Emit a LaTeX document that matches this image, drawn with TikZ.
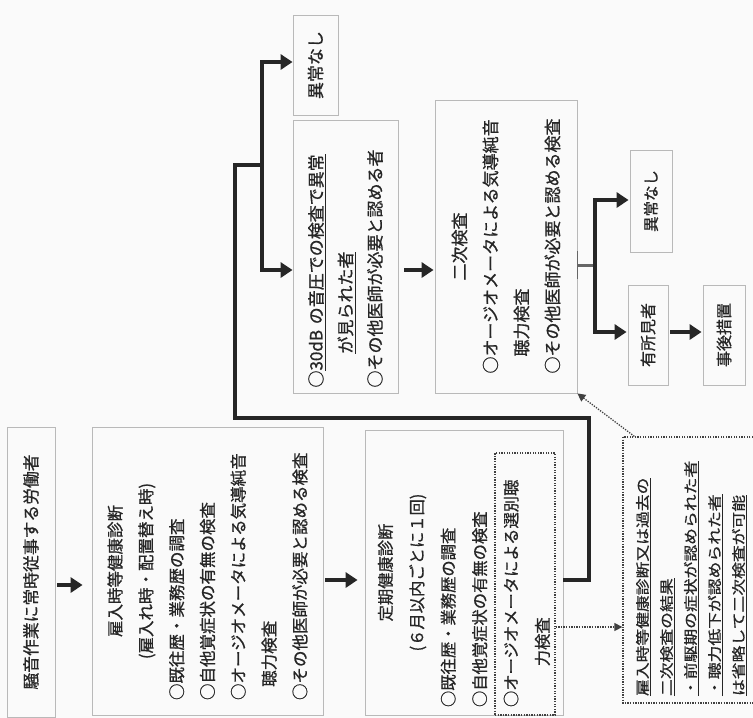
\documentclass[tikz,border=0pt]{standalone}
\usepackage{fontspec}
\newfontfamily\jp[FakeBold=0.8]{Noto Sans CJK JP}
\newfontfamily\jpwide[FakeStretch=1.2,FakeBold=0.8]{Noto Sans CJK JP}
\usetikzlibrary{arrows.meta,calc}
\begin{document}
\begin{tikzpicture}[x=1pt,y=-1pt,
  >={Triangle[length=12pt,width=15pt]},
  box/.style={draw=gray!55, line width=0.8pt, rotate=90, inner sep=0pt, text=black!85},
  thk/.style={line width=4.5pt, draw=black!85},
  dotln/.style={draw=black!75, line width=1.3pt, dash pattern=on 1.3pt off 1.3pt},
  dotarr/.style={dotln, -{Triangle[length=8pt,width=8pt]}},
]
\fill[gray!4] (0,0) rectangle (753,718);
\useasboundingbox (0,0) rectangle (753,718);
\clip (0,0) rectangle (753,718);

% reference levels
\coordinate (y585) at (0,585);
\coordinate (y580) at (0,580);
\coordinate (y270) at (0,270);
\coordinate (y265) at (0,265);
\coordinate (y332) at (0,332);
\coordinate (y627) at (0,627);

% boxes
\node[box, minimum width=290pt, minimum height=48pt, font=\jp\fontsize{16.8}{20}\selectfont] (b1) at (31,572) {騒音作業に常時従事する労働者};

\node[box, minimum width=288pt, minimum height=231pt, text width=258pt, align=left, font=\jp\fontsize{16.5}{30.8}\selectfont] (b2) at (207.5,571) {%
\makebox[\linewidth]{雇入時等健康診断}\\
\makebox[\linewidth]{(雇入れ時・配置替え時)}\\
○既往歴・業務歴の調査\\
○自他覚症状の有無の検査\\
○オージオメータによる気導純音\\
\hspace*{0.8em}聴力検査\\
○その他医師が必要と認める検査};

\node[box, minimum width=285pt, minimum height=198pt, text width=269pt, align=left, font=\jp\fontsize{16.3}{31.4}\selectfont] (b3) at (464,572.5) {%
\makebox[\linewidth]{定期健康診断}\\
\makebox[\linewidth]{(６月以内ごとに１回)}\\
○既往歴・業務歴の調査\\
○自他覚症状の有無の検査\\
○オージオメータによる選別聴\\
\hspace*{2.5em}力検査};

\node[dotln, minimum width=60pt, minimum height=262pt, inner sep=0pt] (ib) at (525,584) {};

\node[box, minimum width=273pt, minimum height=105pt, text width=262pt, align=left, font=\jp\fontsize{17}{29.5}\selectfont] (c1) at (345.5,256.5) {%
○\underline{30dB の音圧での検査で異常}\\
\hspace*{2em}\underline{が見られた者}\\
○その他医師が必要と認める者};

\node[box, minimum width=293pt, minimum height=142pt, text width=254pt, align=left, font=\jp\fontsize{17}{31}\selectfont] (c2) at (506,246.5) {%
\makebox[\linewidth]{二次検査}\\
○オージオメータによる気導純音\\
\hspace*{1em}聴力検査\\
○その他医師が必要と認める検査};

\node[box, minimum width=100pt, minimum height=45pt, font=\jp\fontsize{17}{20}\selectfont] (n1) at (315.5,65) {異常なし};
\node[box, minimum width=102pt, minimum height=42pt, font=\jp\fontsize{15.5}{20}\selectfont] (n2) at (651,201) {異常なし};
\node[box, minimum width=100pt, minimum height=40pt, font=\jp\fontsize{16}{20}\selectfont] (n3) at (648,335) {有所見者};
\node[box, minimum width=100pt, minimum height=42pt, font=\jp\fontsize{16}{20}\selectfont] (n4) at (724,335) {事後措置};

\node[box, dotln, minimum width=266pt, minimum height=137pt, text width=252pt, align=left, font=\jpwide\fontsize{14}{24}\selectfont] (d) at (691.5,570) {%
\underline{雇入時等健康診断又は過去の}\\
\underline{二次検査の結果}\\
\underline{・前駆期の症状が認められた者}\\
\underline{・聴力低下が認められた者}\\
\underline{は省略して二次検査が可能}};

% main arrows
\draw[thk, ->, shorten <=2pt, shorten >=9pt] (b1.south |- y585) -- (b2.north |- y585);
\draw[thk, ->, shorten <=2pt, shorten >=7pt] (b2.south |- y580) -- (b3.north |- y580);

% trunk from periodic exam
\coordinate (j1) at (589,418);
\coordinate (j2) at (235,165);
\coordinate (j3) at (262,165);
\coordinate (s1) at (262,62);
\coordinate (s2) at (262,270);
\draw[thk] (b3.south |- y580) -| (j1) -| (j2) -- (j3);
\draw[thk, <->] (n1.north |- s1) -- (s1) -- (s2) -- (c1.north |- s2);

% to second exam
\draw[thk, ->, shorten <=6pt, shorten >=1pt] (c1.south |- y270) -- (c2.north |- y270);

% branches after second exam
\coordinate (u1) at (595,200);
\coordinate (u2) at (595,332);
\draw[line width=3pt, draw=black!60] (c2.south |- y265) -- (u1 |- y265);
\draw[line width=1.2pt, draw=black!60] ($(c2.south |- y265)+(0,-14)$) -- ($(c2.south |- y265)+(0,14)$);
\draw[thk, <->, shorten <=1pt, shorten >=1pt] (n2.north |- u1) -- (u1) -- (u2) -- (n3.north |- u2);
\draw[thk, ->, shorten <=2pt, shorten >=1pt] (n3.south |- y332) -- (n4.north |- y332);

% dotted arrows
\coordinate (dstart) at ($(d.north east)+(12,0)$);
\draw[dotarr] (ib.east |- y627) -- (d.north |- y627);
\draw[dotarr] (dstart) -- (c2.south west);
\end{tikzpicture}
\end{document}
